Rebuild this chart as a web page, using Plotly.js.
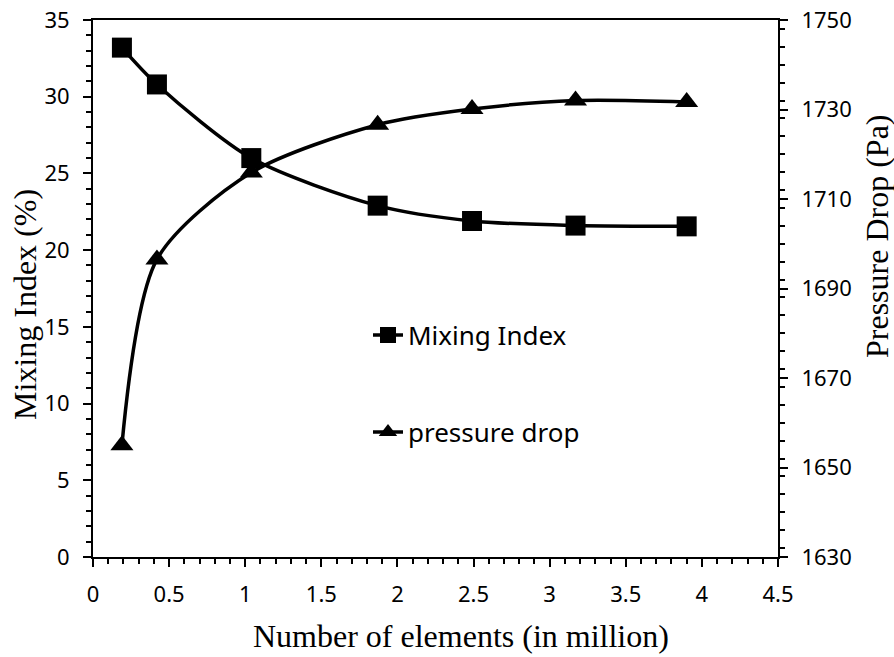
<!DOCTYPE html>
<html>
<head>
<meta charset="utf-8">
<script src="https://cdn.plot.ly/plotly-3.0.1.min.js"></script>
<style>
  html, body { margin: 0; padding: 0; background: #fff; }
  #chart { width: 894px; height: 657px; }
</style>
</head>
<body>
<div id="chart"></div>
<script>
// Mesh size (millions of elements) and the two responses measured at each size
const elementsMillion = [0.19, 0.42, 1.04, 1.87, 2.49, 3.17, 3.90];
const mixingIndex     = [33.2, 30.8, 26.0, 22.9, 21.9, 21.6, 21.55];
const pressureDrop    = [1655.0, 1696.5, 1715.9, 1726.6, 1730.1, 1732.0, 1731.7];

const seriesNames = ['Mixing Index', 'pressure drop'];
const xTitle  = 'Number of elements (in million)';
const y1Title = 'Mixing Index (%)';
const y2Title = 'Pressure Drop (Pa)';

const tickFont  = { family: 'Noto Sans, sans-serif', size: 22, color: '#000' };
const titleFont = { family: 'Liberation Serif, Times New Roman, serif', size: 32, color: '#000' };
const legendFont = { family: 'Noto Sans, sans-serif', size: 26, color: '#000' };

const axisCommon = {
  showgrid: false,
  zeroline: false,
  showline: true,
  linecolor: '#000',
  linewidth: 2,
  ticks: 'outside',
  ticklen: 8,
  tickwidth: 2,
  tickcolor: '#000',
  tickfont: tickFont,
  ticklabelstandoff: 9
};

const traces = [
  {
    x: elementsMillion,
    y: mixingIndex,
    name: seriesNames[0],
    type: 'scatter',
    mode: 'lines+markers',
    line: { color: '#000', width: 3.5, shape: 'spline', smoothing: 0.8 },
    marker: { symbol: 'square', size: 20, color: '#000' },
    yaxis: 'y',
    legend: 'legend'
  },
  {
    x: elementsMillion,
    y: pressureDrop,
    name: seriesNames[1],
    type: 'scatter',
    mode: 'lines+markers',
    line: { color: '#000', width: 3.5, shape: 'spline', smoothing: 0.8 },
    marker: { symbol: 'triangle-up', size: 20, color: '#000' },
    yaxis: 'y2',
    legend: 'legend2'
  }
];

const layout = {
  width: 894,
  height: 657,
  margin: { l: 93, r: 116, t: 20, b: 100, pad: 0 },
  paper_bgcolor: '#fff',
  plot_bgcolor: '#fff',
  showlegend: true,
  xaxis: Object.assign({}, axisCommon, {
    range: [0, 4.5],
    dtick: 0.5,
    tick0: 0,
    mirror: true,
    minor: { dtick: 0.1, ticks: 'outside', ticklen: 5, tickwidth: 2, tickcolor: '#000' }
  }),
  yaxis: Object.assign({}, axisCommon, {
    range: [0, 35],
    dtick: 5,
    tick0: 0,
    minor: { dtick: 1, ticks: 'outside', ticklen: 5, tickwidth: 2, tickcolor: '#000' }
  }),
  yaxis2: Object.assign({}, axisCommon, {
    range: [1630, 1750],
    dtick: 20,
    tick0: 1630,
    overlaying: 'y',
    side: 'right',
    minor: { dtick: 4, ticks: 'outside', ticklen: 5, tickwidth: 2, tickcolor: '#000' }
  }),
  legend: {
    x: (368 - 93) / 685, y: (557 - 335) / 537,
    xanchor: 'left', yanchor: 'middle',
    bgcolor: 'rgba(0,0,0,0)', borderwidth: 0,
    font: legendFont
  },
  legend2: {
    x: (368 - 93) / 685, y: (557 - 432) / 537,
    xanchor: 'left', yanchor: 'middle',
    bgcolor: 'rgba(0,0,0,0)', borderwidth: 0,
    font: legendFont
  },
  annotations: [
    {
      text: xTitle, xref: 'paper', yref: 'paper',
      x: (461 - 93) / 685, y: (557 - 636) / 537,
      xanchor: 'center', yanchor: 'middle', showarrow: false, font: titleFont
    },
    {
      text: y1Title, xref: 'paper', yref: 'paper', textangle: -90,
      x: (25 - 93) / 685, y: (557 - 305) / 537,
      xanchor: 'center', yanchor: 'middle', showarrow: false, font: titleFont
    },
    {
      text: y2Title, xref: 'paper', yref: 'paper', textangle: -90,
      x: (877 - 93) / 685, y: (557 - 236) / 537,
      xanchor: 'center', yanchor: 'middle', showarrow: false, font: titleFont
    }
  ]
};

Plotly.newPlot('chart', traces, layout, { displayModeBar: false, staticPlot: true });
</script>
</body>
</html>
